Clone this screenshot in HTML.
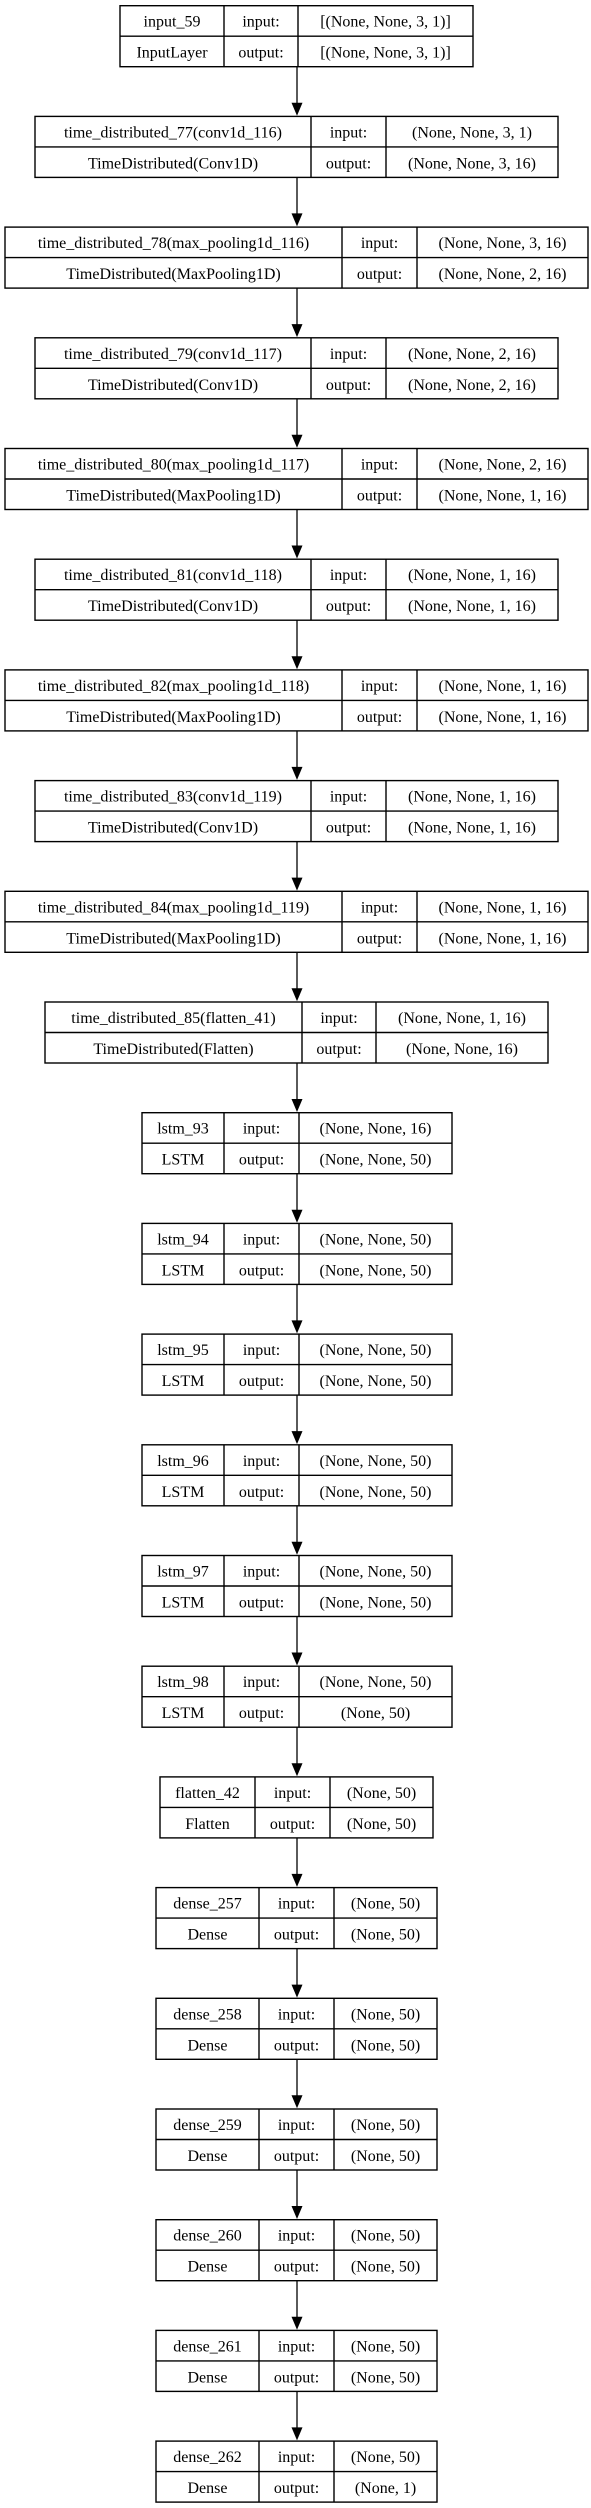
<!DOCTYPE html>
<html><head><meta charset="utf-8"><style>
html,body{margin:0;padding:0;background:#fff;}
svg{display:block;}
text{font-family:"Liberation Serif",serif;font-size:16px;fill:#000;text-anchor:middle;}
rect,line.b{fill:none;stroke:#000;stroke-width:1.4;}
line.a{stroke:#000;stroke-width:1.3;}
</style></head><body>
<svg width="591" height="2508" viewBox="0 0 591 2508" xmlns="http://www.w3.org/2000/svg">
<defs>
<g id="arr"><line class="a" x1="297" y1="61" x2="297" y2="99"/><polygon points="291.5,97 302.5,97 297,110"/></g>
</defs>

<!-- 0 input -->
<g transform="translate(0,5.7)"><rect x="120" y="0" width="353" height="61"/><line class="b" x1="120" y1="30.5" x2="473" y2="30.5"/><line class="b" x1="224" y1="0" x2="224" y2="61"/><line class="b" x1="298" y1="0" x2="298" y2="61"/>
<text x="172" y="21">input_59</text><text x="261" y="21">input:</text><text x="385.5" y="21">[(None, None, 3, 1)]</text>
<text x="172" y="52">InputLayer</text><text x="261" y="52">output:</text><text x="385.5" y="52">[(None, None, 3, 1)]</text><use href="#arr"/></g>

<!-- 1 td77 -->
<g transform="translate(0,116.4)"><rect x="35" y="0" width="523" height="61"/><line class="b" x1="35" y1="30.5" x2="558" y2="30.5"/><line class="b" x1="311" y1="0" x2="311" y2="61"/><line class="b" x1="386" y1="0" x2="386" y2="61"/>
<text x="173" y="21">time_distributed_77(conv1d_116)</text><text x="348.5" y="21">input:</text><text x="472" y="21">(None, None, 3, 1)</text>
<text x="173" y="52">TimeDistributed(Conv1D)</text><text x="348.5" y="52">output:</text><text x="472" y="52">(None, None, 3, 16)</text><use href="#arr"/></g>

<!-- 2 td78 -->
<g transform="translate(0,227.1)"><rect x="5" y="0" width="583" height="61"/><line class="b" x1="5" y1="30.5" x2="588" y2="30.5"/><line class="b" x1="342" y1="0" x2="342" y2="61"/><line class="b" x1="417" y1="0" x2="417" y2="61"/>
<text x="173.5" y="21">time_distributed_78(max_pooling1d_116)</text><text x="379.5" y="21">input:</text><text x="502.5" y="21">(None, None, 3, 16)</text>
<text x="173.5" y="52">TimeDistributed(MaxPooling1D)</text><text x="379.5" y="52">output:</text><text x="502.5" y="52">(None, None, 2, 16)</text><use href="#arr"/></g>

<!-- 3 td79 -->
<g transform="translate(0,337.8)"><rect x="35" y="0" width="523" height="61"/><line class="b" x1="35" y1="30.5" x2="558" y2="30.5"/><line class="b" x1="311" y1="0" x2="311" y2="61"/><line class="b" x1="386" y1="0" x2="386" y2="61"/>
<text x="173" y="21">time_distributed_79(conv1d_117)</text><text x="348.5" y="21">input:</text><text x="472" y="21">(None, None, 2, 16)</text>
<text x="173" y="52">TimeDistributed(Conv1D)</text><text x="348.5" y="52">output:</text><text x="472" y="52">(None, None, 2, 16)</text><use href="#arr"/></g>

<!-- 4 td80 -->
<g transform="translate(0,448.5)"><rect x="5" y="0" width="583" height="61"/><line class="b" x1="5" y1="30.5" x2="588" y2="30.5"/><line class="b" x1="342" y1="0" x2="342" y2="61"/><line class="b" x1="417" y1="0" x2="417" y2="61"/>
<text x="173.5" y="21">time_distributed_80(max_pooling1d_117)</text><text x="379.5" y="21">input:</text><text x="502.5" y="21">(None, None, 2, 16)</text>
<text x="173.5" y="52">TimeDistributed(MaxPooling1D)</text><text x="379.5" y="52">output:</text><text x="502.5" y="52">(None, None, 1, 16)</text><use href="#arr"/></g>

<!-- 5 td81 -->
<g transform="translate(0,559.2)"><rect x="35" y="0" width="523" height="61"/><line class="b" x1="35" y1="30.5" x2="558" y2="30.5"/><line class="b" x1="311" y1="0" x2="311" y2="61"/><line class="b" x1="386" y1="0" x2="386" y2="61"/>
<text x="173" y="21">time_distributed_81(conv1d_118)</text><text x="348.5" y="21">input:</text><text x="472" y="21">(None, None, 1, 16)</text>
<text x="173" y="52">TimeDistributed(Conv1D)</text><text x="348.5" y="52">output:</text><text x="472" y="52">(None, None, 1, 16)</text><use href="#arr"/></g>

<!-- 6 td82 -->
<g transform="translate(0,669.9)"><rect x="5" y="0" width="583" height="61"/><line class="b" x1="5" y1="30.5" x2="588" y2="30.5"/><line class="b" x1="342" y1="0" x2="342" y2="61"/><line class="b" x1="417" y1="0" x2="417" y2="61"/>
<text x="173.5" y="21">time_distributed_82(max_pooling1d_118)</text><text x="379.5" y="21">input:</text><text x="502.5" y="21">(None, None, 1, 16)</text>
<text x="173.5" y="52">TimeDistributed(MaxPooling1D)</text><text x="379.5" y="52">output:</text><text x="502.5" y="52">(None, None, 1, 16)</text><use href="#arr"/></g>

<!-- 7 td83 -->
<g transform="translate(0,780.6)"><rect x="35" y="0" width="523" height="61"/><line class="b" x1="35" y1="30.5" x2="558" y2="30.5"/><line class="b" x1="311" y1="0" x2="311" y2="61"/><line class="b" x1="386" y1="0" x2="386" y2="61"/>
<text x="173" y="21">time_distributed_83(conv1d_119)</text><text x="348.5" y="21">input:</text><text x="472" y="21">(None, None, 1, 16)</text>
<text x="173" y="52">TimeDistributed(Conv1D)</text><text x="348.5" y="52">output:</text><text x="472" y="52">(None, None, 1, 16)</text><use href="#arr"/></g>

<!-- 8 td84 -->
<g transform="translate(0,891.3)"><rect x="5" y="0" width="583" height="61"/><line class="b" x1="5" y1="30.5" x2="588" y2="30.5"/><line class="b" x1="342" y1="0" x2="342" y2="61"/><line class="b" x1="417" y1="0" x2="417" y2="61"/>
<text x="173.5" y="21">time_distributed_84(max_pooling1d_119)</text><text x="379.5" y="21">input:</text><text x="502.5" y="21">(None, None, 1, 16)</text>
<text x="173.5" y="52">TimeDistributed(MaxPooling1D)</text><text x="379.5" y="52">output:</text><text x="502.5" y="52">(None, None, 1, 16)</text><use href="#arr"/></g>

<!-- 9 td85 -->
<g transform="translate(0,1002)"><rect x="45" y="0" width="503" height="61"/><line class="b" x1="45" y1="30.5" x2="548" y2="30.5"/><line class="b" x1="302" y1="0" x2="302" y2="61"/><line class="b" x1="376" y1="0" x2="376" y2="61"/>
<text x="173.5" y="21">time_distributed_85(flatten_41)</text><text x="339" y="21">input:</text><text x="462" y="21">(None, None, 1, 16)</text>
<text x="173.5" y="52">TimeDistributed(Flatten)</text><text x="339" y="52">output:</text><text x="462" y="52">(None, None, 16)</text><use href="#arr"/></g>

<!-- 10-15 lstm -->
<g transform="translate(0,1112.7)"><rect x="142" y="0" width="310" height="61"/><line class="b" x1="142" y1="30.5" x2="452" y2="30.5"/><line class="b" x1="224" y1="0" x2="224" y2="61"/><line class="b" x1="299" y1="0" x2="299" y2="61"/>
<text x="183" y="21">lstm_93</text><text x="261.5" y="21">input:</text><text x="375.5" y="21">(None, None, 16)</text>
<text x="183" y="52">LSTM</text><text x="261.5" y="52">output:</text><text x="375.5" y="52">(None, None, 50)</text><use href="#arr"/></g>

<g transform="translate(0,1223.4)"><rect x="142" y="0" width="310" height="61"/><line class="b" x1="142" y1="30.5" x2="452" y2="30.5"/><line class="b" x1="224" y1="0" x2="224" y2="61"/><line class="b" x1="299" y1="0" x2="299" y2="61"/>
<text x="183" y="21">lstm_94</text><text x="261.5" y="21">input:</text><text x="375.5" y="21">(None, None, 50)</text>
<text x="183" y="52">LSTM</text><text x="261.5" y="52">output:</text><text x="375.5" y="52">(None, None, 50)</text><use href="#arr"/></g>

<g transform="translate(0,1334.1)"><rect x="142" y="0" width="310" height="61"/><line class="b" x1="142" y1="30.5" x2="452" y2="30.5"/><line class="b" x1="224" y1="0" x2="224" y2="61"/><line class="b" x1="299" y1="0" x2="299" y2="61"/>
<text x="183" y="21">lstm_95</text><text x="261.5" y="21">input:</text><text x="375.5" y="21">(None, None, 50)</text>
<text x="183" y="52">LSTM</text><text x="261.5" y="52">output:</text><text x="375.5" y="52">(None, None, 50)</text><use href="#arr"/></g>

<g transform="translate(0,1444.8)"><rect x="142" y="0" width="310" height="61"/><line class="b" x1="142" y1="30.5" x2="452" y2="30.5"/><line class="b" x1="224" y1="0" x2="224" y2="61"/><line class="b" x1="299" y1="0" x2="299" y2="61"/>
<text x="183" y="21">lstm_96</text><text x="261.5" y="21">input:</text><text x="375.5" y="21">(None, None, 50)</text>
<text x="183" y="52">LSTM</text><text x="261.5" y="52">output:</text><text x="375.5" y="52">(None, None, 50)</text><use href="#arr"/></g>

<g transform="translate(0,1555.5)"><rect x="142" y="0" width="310" height="61"/><line class="b" x1="142" y1="30.5" x2="452" y2="30.5"/><line class="b" x1="224" y1="0" x2="224" y2="61"/><line class="b" x1="299" y1="0" x2="299" y2="61"/>
<text x="183" y="21">lstm_97</text><text x="261.5" y="21">input:</text><text x="375.5" y="21">(None, None, 50)</text>
<text x="183" y="52">LSTM</text><text x="261.5" y="52">output:</text><text x="375.5" y="52">(None, None, 50)</text><use href="#arr"/></g>

<g transform="translate(0,1666.2)"><rect x="142" y="0" width="310" height="61"/><line class="b" x1="142" y1="30.5" x2="452" y2="30.5"/><line class="b" x1="224" y1="0" x2="224" y2="61"/><line class="b" x1="299" y1="0" x2="299" y2="61"/>
<text x="183" y="21">lstm_98</text><text x="261.5" y="21">input:</text><text x="375.5" y="21">(None, None, 50)</text>
<text x="183" y="52">LSTM</text><text x="261.5" y="52">output:</text><text x="375.5" y="52">(None, 50)</text><use href="#arr"/></g>

<!-- 16 flatten -->
<g transform="translate(0,1776.9)"><rect x="160" y="0" width="273" height="61"/><line class="b" x1="160" y1="30.5" x2="433" y2="30.5"/><line class="b" x1="255" y1="0" x2="255" y2="61"/><line class="b" x1="330" y1="0" x2="330" y2="61"/>
<text x="207.5" y="21">flatten_42</text><text x="292.5" y="21">input:</text><text x="381.5" y="21">(None, 50)</text>
<text x="207.5" y="52">Flatten</text><text x="292.5" y="52">output:</text><text x="381.5" y="52">(None, 50)</text><use href="#arr"/></g>

<!-- 17-22 dense -->
<g transform="translate(0,1887.6)"><rect x="156" y="0" width="281" height="61"/><line class="b" x1="156" y1="30.5" x2="437" y2="30.5"/><line class="b" x1="259" y1="0" x2="259" y2="61"/><line class="b" x1="334" y1="0" x2="334" y2="61"/>
<text x="207.5" y="21">dense_257</text><text x="296.5" y="21">input:</text><text x="385.5" y="21">(None, 50)</text>
<text x="207.5" y="52">Dense</text><text x="296.5" y="52">output:</text><text x="385.5" y="52">(None, 50)</text><use href="#arr"/></g>

<g transform="translate(0,1998.3)"><rect x="156" y="0" width="281" height="61"/><line class="b" x1="156" y1="30.5" x2="437" y2="30.5"/><line class="b" x1="259" y1="0" x2="259" y2="61"/><line class="b" x1="334" y1="0" x2="334" y2="61"/>
<text x="207.5" y="21">dense_258</text><text x="296.5" y="21">input:</text><text x="385.5" y="21">(None, 50)</text>
<text x="207.5" y="52">Dense</text><text x="296.5" y="52">output:</text><text x="385.5" y="52">(None, 50)</text><use href="#arr"/></g>

<g transform="translate(0,2109)"><rect x="156" y="0" width="281" height="61"/><line class="b" x1="156" y1="30.5" x2="437" y2="30.5"/><line class="b" x1="259" y1="0" x2="259" y2="61"/><line class="b" x1="334" y1="0" x2="334" y2="61"/>
<text x="207.5" y="21">dense_259</text><text x="296.5" y="21">input:</text><text x="385.5" y="21">(None, 50)</text>
<text x="207.5" y="52">Dense</text><text x="296.5" y="52">output:</text><text x="385.5" y="52">(None, 50)</text><use href="#arr"/></g>

<g transform="translate(0,2219.7)"><rect x="156" y="0" width="281" height="61"/><line class="b" x1="156" y1="30.5" x2="437" y2="30.5"/><line class="b" x1="259" y1="0" x2="259" y2="61"/><line class="b" x1="334" y1="0" x2="334" y2="61"/>
<text x="207.5" y="21">dense_260</text><text x="296.5" y="21">input:</text><text x="385.5" y="21">(None, 50)</text>
<text x="207.5" y="52">Dense</text><text x="296.5" y="52">output:</text><text x="385.5" y="52">(None, 50)</text><use href="#arr"/></g>

<g transform="translate(0,2330.4)"><rect x="156" y="0" width="281" height="61"/><line class="b" x1="156" y1="30.5" x2="437" y2="30.5"/><line class="b" x1="259" y1="0" x2="259" y2="61"/><line class="b" x1="334" y1="0" x2="334" y2="61"/>
<text x="207.5" y="21">dense_261</text><text x="296.5" y="21">input:</text><text x="385.5" y="21">(None, 50)</text>
<text x="207.5" y="52">Dense</text><text x="296.5" y="52">output:</text><text x="385.5" y="52">(None, 50)</text><use href="#arr"/></g>

<g transform="translate(0,2441.1)"><rect x="156" y="0" width="281" height="61"/><line class="b" x1="156" y1="30.5" x2="437" y2="30.5"/><line class="b" x1="259" y1="0" x2="259" y2="61"/><line class="b" x1="334" y1="0" x2="334" y2="61"/>
<text x="207.5" y="21">dense_262</text><text x="296.5" y="21">input:</text><text x="385.5" y="21">(None, 50)</text>
<text x="207.5" y="52">Dense</text><text x="296.5" y="52">output:</text><text x="385.5" y="52">(None, 1)</text></g>
</svg>
</body></html>
